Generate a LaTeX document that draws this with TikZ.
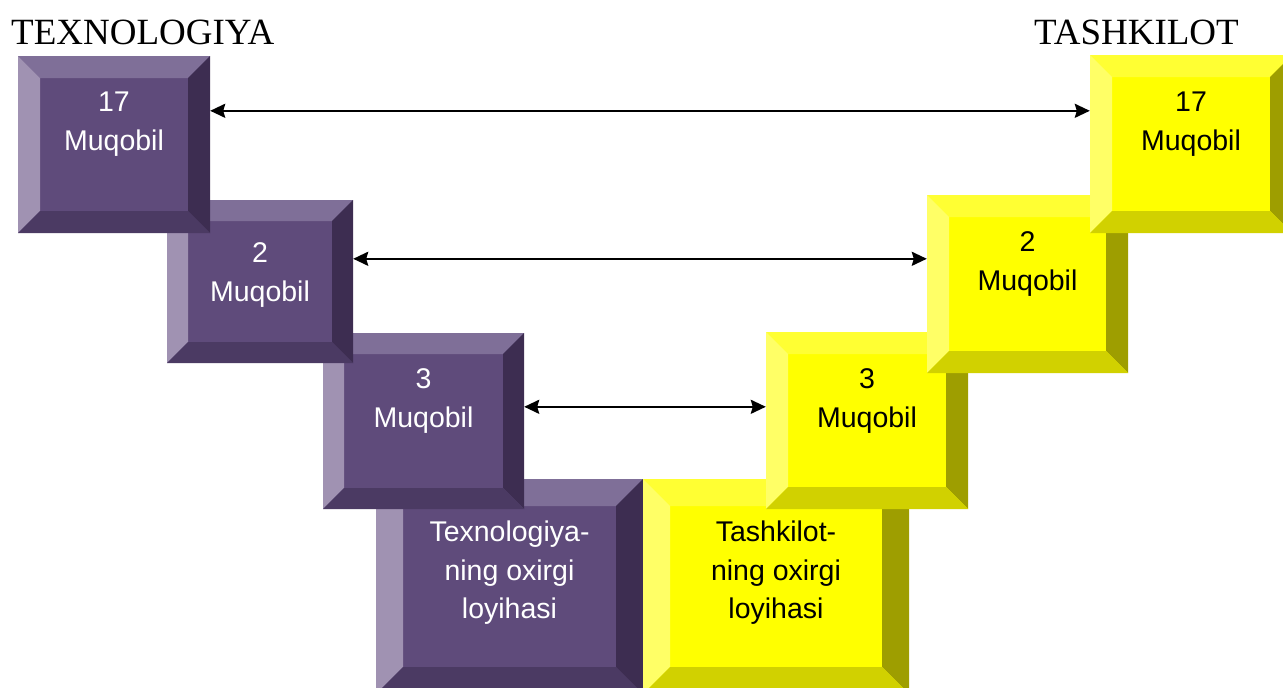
\documentclass[tikz,border=0pt]{standalone}
\usepackage{fontspec}
\setmainfont{Liberation Serif}
\newfontfamily\boxfont{Liberation Sans}
\usepackage{tikz}
\usetikzlibrary{arrows.meta,positioning}
\definecolor{TechFace}{HTML}{5F4B7B}
\definecolor{TechTop}{HTML}{7F6F98}
\definecolor{TechLeft}{HTML}{A092B2}
\definecolor{TechRight}{HTML}{3D2D51}
\definecolor{TechBottom}{HTML}{4B3A63}
\definecolor{OrgFace}{HTML}{FFFF00}
\definecolor{OrgTop}{HTML}{FFFF33}
\definecolor{OrgLeft}{HTML}{FFFF66}
\definecolor{OrgRight}{HTML}{9E9E00}
\definecolor{OrgBottom}{HTML}{D1D100}

\begin{document}
\begin{tikzpicture}[
    x=1pt, y=1pt,
    bev/.store in=\bevw, bev=22,
    bevelled/.style={
      inner sep=0pt,
      fill=#1Face,
      path picture={
        \path (path picture bounding box.south west) coordinate (sw)
              (path picture bounding box.north east) coordinate (ne)
              (path picture bounding box.north west) coordinate (nw)
              (path picture bounding box.south east) coordinate (se);
        \fill[#1Top] (nw) -- (ne) -- ([shift={(-\bevw,-\bevw)}]ne)
          -- ([shift={(\bevw,-\bevw)}]nw) -- cycle;
        \fill[#1Left] (nw) -- ([shift={(\bevw,-\bevw)}]nw)
          -- ([shift={(\bevw,\bevw)}]sw) -- (sw) -- cycle;
        \fill[#1Right] (ne) -- (se) -- ([shift={(-\bevw,\bevw)}]se)
          -- ([shift={(-\bevw,-\bevw)}]ne) -- cycle;
        \fill[#1Bottom] (sw) -- (se) -- ([shift={(-\bevw,\bevw)}]se)
          -- ([shift={(\bevw,\bevw)}]sw) -- cycle;
      }
    },
    techbox/.style 2 args={
      bevelled=Tech,
      minimum width=#1pt,
      minimum height=#2pt
    },
    orgbox/.style 2 args={
      bevelled=Org,
      minimum width=#1pt,
      minimum height=#2pt
    },
    wtext/.style={
      inner sep=0pt,
      align=center,
      text=white,
      font=\boxfont\fontsize{28.5}{38.5}\selectfont
    },
    btext/.style={
      wtext,
      text=black
    },
    heading/.style={
      inner sep=0pt,
      anchor=base west,
      font=\fontsize{37}{40}\selectfont
    },
    link/.style={
      {Stealth[length=15pt,width=14pt,inset=2pt]}-{Stealth[length=15pt,width=14pt,inset=2pt]},
      line width=2.2pt,
      color=black
    }
  ]
  \useasboundingbox (0,0) rectangle (1283,-688);

  % Final projects (drawn first, they lie underneath)
  \node[techbox={267}{215}, bev=27] (techend) at (509.5,-586.5) {};
  \node[orgbox={266}{215}, bev=27] (orgend) at (776,-586.5) {};

  % Technology side
  \node[techbox={201}{176}, bev=21] (tech3) at (423.5,-421) {};
  \node[techbox={186}{163}, bev=21] (tech2) at (260,-281.5) {};
  \node[techbox={192}{177}] (tech1) at (114,-144.5) {};

  % Organisation side
  \node[orgbox={202}{177}] (org3) at (867,-420.5) {};
  \node[orgbox={201}{178}] (org2) at (1027.5,-284) {};
  \node[orgbox={202}{178}] (org1) at (1191,-144) {};

  % Box texts
  \node[wtext, below=42pt of techend.north] (techendtxt) {Texnologiya-\\ning oxirgi\\loyihasi};
  \node[btext, below=42pt of orgend.north] (orgendtxt) {Tashkilot-\\ning oxirgi\\loyihasi};
  \node[wtext, below=36pt of tech3.north] (tech3txt) {3\\Muqobil};
  \node[wtext, below=43pt of tech2.north] (tech2txt) {2\\Muqobil};
  \node[wtext, below=36pt of tech1.north] (tech1txt) {17\\Muqobil};
  \node[btext, below=37pt of org3.north] (org3txt) {3\\Muqobil};
  \node[btext, below=37pt of org2.north] (org2txt) {2\\Muqobil};
  \node[btext, below=37pt of org1.north] (org1txt) {17\\Muqobil};

  % Headings
  \node[heading] (techhead) at (11,-44) {TEXNOLOGIYA};
  \node[heading] (orghead) at (1034,-44) {TASHKILOT};

  % Correspondences
  \draw[link] ([yshift=-55pt]tech1.north east) -- ([yshift=-56pt]org1.north west);
  \draw[link] ([yshift=-59pt]tech2.north east) -- ([yshift=-64pt]org2.north west);
  \draw[link] ([yshift=-74pt]tech3.north east) -- ([yshift=-75pt]org3.north west);

\end{tikzpicture}
\end{document}
